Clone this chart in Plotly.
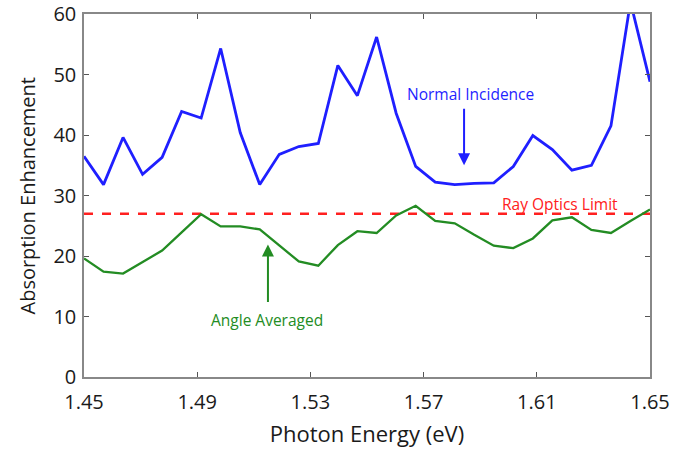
import plotly.graph_objects as go

energy = [1.4500, 1.4569, 1.4638, 1.4707, 1.4776, 1.4845, 1.4914, 1.4983, 1.5052, 1.5121,
          1.5190, 1.5259, 1.5328, 1.5397, 1.5466, 1.5534, 1.5603, 1.5672, 1.5741, 1.5810,
          1.5879, 1.5948, 1.6017, 1.6086, 1.6155, 1.6224, 1.6293, 1.6362, 1.6431, 1.6500]

normal_incidence = [36.5, 31.8, 39.6, 33.5, 36.3, 43.9, 42.8, 54.3, 40.4, 31.8,
                    36.8, 38.1, 38.6, 51.5, 46.5, 56.2, 43.6, 34.8, 32.2, 31.8,
                    32.0, 32.1, 34.8, 39.9, 37.6, 34.2, 35.0, 41.5, 62.0, 48.8]

angle_averaged = [19.6, 17.4, 17.1, 19.0, 20.9, 23.9, 26.9, 24.9, 24.9, 24.4,
                  21.8, 19.1, 18.4, 21.8, 24.1, 23.8, 26.7, 28.3, 25.8, 25.4,
                  23.5, 21.7, 21.3, 22.9, 25.9, 26.4, 24.3, 23.8, 25.8, 27.7]

ray_optics_limit = 27.0

x_ticks = [1.45, 1.49, 1.53, 1.57, 1.61, 1.65]
y_ticks = [0, 10, 20, 30, 40, 50, 60]

FONT = "Open Sans"
BLUE = "#1f1fff"
GREEN = "#238c23"
RED = "#ff2020"
TXT = "#1a1a1a"

fig = go.Figure()
fig.add_trace(go.Scatter(x=[energy[0], energy[-1]], y=[ray_optics_limit, ray_optics_limit],
                         mode="lines", line=dict(color=RED, width=2.5, dash="dash"),
                         showlegend=False, hoverinfo="skip"))
fig.add_trace(go.Scatter(x=energy, y=angle_averaged, mode="lines",
                         line=dict(color=GREEN, width=2.3), showlegend=False))
fig.add_trace(go.Scatter(x=energy, y=normal_incidence, mode="lines",
                         line=dict(color=BLUE, width=2.8), showlegend=False))

fig.add_annotation(x=1.5843, y=35.0, ax=0, ay=-58, showarrow=True, arrowhead=2,
                   arrowsize=1.2, arrowwidth=2, arrowcolor=BLUE, text="")
fig.add_annotation(x=1.5864, y=46.8, text="Normal Incidence", showarrow=False,
                   font=dict(family=FONT, size=15.5, color=BLUE))
fig.add_annotation(x=1.515, y=21.9, ax=0, ay=59, showarrow=True, arrowhead=2,
                   arrowsize=1.2, arrowwidth=2, arrowcolor=GREEN, text="")
fig.add_annotation(x=1.5148, y=9.4, text="Angle Averaged", showarrow=False,
                   font=dict(family=FONT, size=15.5, color=GREEN))
fig.add_annotation(x=1.6182, y=28.6, text="Ray Optics Limit", showarrow=False,
                   font=dict(family=FONT, size=15.5, color=RED))

# y-axis title placed as rotated text to match the reference's position
fig.add_annotation(xref="paper", yref="paper", x=0, y=0.5, xanchor="center", yanchor="middle",
                   xshift=-57, text="Absorption Enhancement", textangle=-90, showarrow=False,
                   font=dict(family=FONT, size=20, color=TXT))

axis_common = dict(showgrid=False, zeroline=False, showline=True, linecolor="#888888",
                   linewidth=1.5, mirror="ticks", ticks="inside", ticklen=5,
                   tickcolor="#555555", automargin=False, ticklabeloverflow="allow",
                   tickfont=dict(family=FONT, size=20, color=TXT))

fig.update_xaxes(range=[1.45, 1.65], tickvals=x_ticks,
                 ticktext=[f"{v:.2f}" for v in x_ticks], ticklabelstandoff=6,
                 title=dict(text="Photon Energy (eV)", font=dict(family=FONT, size=22, color=TXT),
                            standoff=13),
                 **axis_common)
fig.update_yaxes(range=[0, 60], tickvals=y_ticks, ticklabelstandoff=2,
                 **axis_common)

fig.update_layout(width=700, height=456, margin=dict(l=84, r=50, t=14, b=79),
                  plot_bgcolor="white", paper_bgcolor="white")

fig.write_html("out.html", config={"displayModeBar": False},
               post_script="document.body.style.margin='0';")
